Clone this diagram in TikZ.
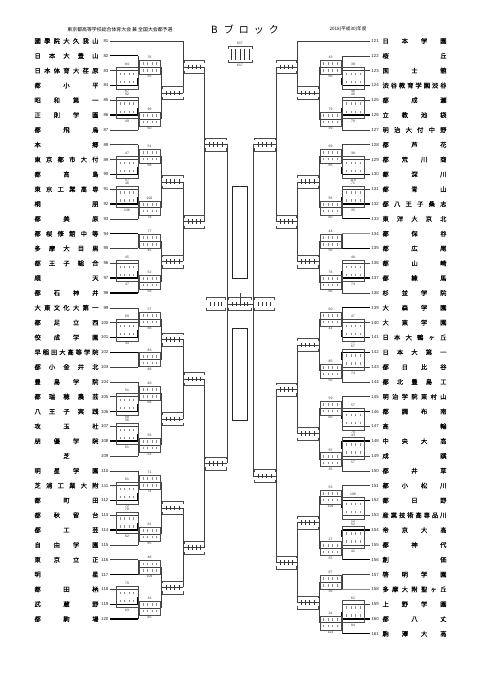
\documentclass[tikz,border=0pt]{standalone}
\usepackage{fontspec}
\newfontfamily\jp[FakeBold=0.3]{Noto Sans CJK JP}
\newfontfamily\jph{Noto Sans CJK JP}
\newfontfamily\lsans{Liberation Sans}
\usetikzlibrary{calc}
\ExplSyntaxOn
\NewDocumentCommand \jn { m }
 {
  \int_compare:nNnTF { \tl_count:n {#1} } = 1
   { \hfill #1 \hfill }
   {
    \bool_set_true:N \l_tmpa_bool
    \tl_map_inline:nn {#1}
     {
      \bool_if:NTF \l_tmpa_bool { \bool_set_false:N \l_tmpa_bool } { \hfill }
      ##1
     }
   }
 }
\ExplSyntaxOff
\tikzset{
  ln/.style={draw=black!75, line width=0.5pt},
  lng/.style={draw=black!45, line width=0.5pt},
  thk/.style={draw=black, line width=1.3pt},
  bx/.style={draw=black!70, line width=0.35pt},
  tk/.style={draw=black!45, line width=0.3pt},
  tkd/.style={draw=black!80, line width=0.35pt},
  lab/.style={font=\lsans\fontsize{3.4}{4}\selectfont, text=black!80, inner sep=0pt},
  num/.style={font=\lsans\fontsize{4.4}{5}\selectfont, text=black!85, inner sep=0pt},
  tname/.style={font=\jp\fontsize{6.3}{7}\selectfont, inner sep=0pt},
  rect/.style={draw=black!85, line width=0.75pt}
}
% team on the left: number, name, line style, end x
\newcommand\teamL[4]{%
  \pgfmathsetmacro\yy{41+(#1-81)*14.82}
  \coordinate (sL#1) at (110,\yy);
  \coordinate (L#1) at (#4,\yy);
  \node[num,anchor=east] (kL#1) at (108.6,\yy) {#1};
  \node[tname] (nL#1) at (66.5,\yy) {\makebox[64pt][s]{\jn{#2}}};
  \draw[#3] (sL#1) -- (L#1);
}
\newcommand\teamR[4]{%
  \pgfmathsetmacro\yy{41+(#1-121)*14.82}
  \coordinate (sR#1) at (370,\yy);
  \coordinate (R#1) at (#4,\yy);
  \node[num,anchor=west] (kR#1) at (371.2,\yy) {#1};
  \node[tname] (nR#1) at (414.5,\yy) {\makebox[64pt][s]{\jn{#2}}};
  \draw[#3] (sR#1) -- (R#1);
}
% match: name, entry a, entry b, shift to next vertical
\newcommand\mt[4]{%
  \coordinate (#1) at ($(#2)!.5!(#3)$);
  \coordinate (#1o) at ([xshift=#4]#1);
  \draw[ln] (#2) -- (#3);
  \draw[ln] (#1) -- (#1o);
}
% first-round box: a, b, side, label above, label below
\newcommand\bxone[5]{%
  \draw[bx] ([xshift={#3*22pt},yshift=3.5pt]#1) rectangle ([yshift=-3.5pt]#2);
  \foreach \ti in {4.5,9,13.5,18}{%
    \draw[tk] ([xshift={#3*\ti*1pt},yshift=-2.2pt]#1) -- ([xshift={#3*\ti*1pt},yshift=-4.6pt]#1);
    \draw[tk] ([xshift={#3*\ti*1pt},yshift=2.2pt]#2) -- ([xshift={#3*\ti*1pt},yshift=4.6pt]#2);
  }
  \node[lab] (#1a) at ([xshift={#3*11pt},yshift=6pt]#1) {#4};
  \node[lab] (#2b) at ([xshift={#3*11pt},yshift=-6pt]#2) {#5};
}
% second-round box: mid, side, label above, label below
\newcommand\bxtwo[4]{%
  \draw[bx] ([xshift={#2*1.2pt},yshift=7pt]#1) rectangle ([xshift={#2*21.8pt},yshift=-7pt]#1);
  \foreach \ti in {5,9.5,14,18.5}{%
    \draw[tk] ([xshift={#2*\ti*1pt},yshift=2pt]#1) -- ([xshift={#2*\ti*1pt},yshift=4.6pt]#1);
    \draw[tk] ([xshift={#2*\ti*1pt},yshift=-2pt]#1) -- ([xshift={#2*\ti*1pt},yshift=-4.6pt]#1);
  }
  \node[lab] (#1a) at ([xshift={#2*11.5pt},yshift=9.6pt]#1) {#3};
  \node[lab] (#1b) at ([xshift={#2*11.5pt},yshift=-9.6pt]#1) {#4};
}
% bracket box: mid, side, x0, x1, ticks
\newcommand\bxbr[5]{%
  \draw[bx] ([xshift={#2*#3*1pt},yshift=4pt]#1) -- ([xshift={#2*#3*1pt},yshift=6.5pt]#1) -- ([xshift={#2*#4*1pt},yshift=6.5pt]#1) -- ([xshift={#2*#4*1pt},yshift=4pt]#1);
  \draw[bx] ([xshift={#2*#3*1pt},yshift=-4pt]#1) -- ([xshift={#2*#3*1pt},yshift=-6.5pt]#1) -- ([xshift={#2*#4*1pt},yshift=-6.5pt]#1) -- ([xshift={#2*#4*1pt},yshift=-4pt]#1);
  \foreach \ii in {1,...,#5}{%
    \draw[tkd] ([xshift={#2*(#3+(#4-#3)*\ii/(#5+1))*1pt},yshift=2.3pt]#1) -- ([xshift={#2*(#3+(#4-#3)*\ii/(#5+1))*1pt},yshift=-2.3pt]#1);
  }
}
\begin{document}
\begin{tikzpicture}[x=1pt,y=-1pt]
\fill[white] (0,0) rectangle (481,680);
\useasboundingbox (0,0) rectangle (481,680);

% headers
\node[font=\jph\fontsize{4.9}{5}\selectfont, inner sep=0pt] (hdL) at (120,29.5) {東京都高等学校総合体育大会\ 兼\ 全国大会都予選};
\node[font=\jph\fontsize{10}{12}\selectfont, inner sep=0pt] (ttl) at (245,29.5) {B\hspace{6pt}ブ\hspace{5pt}ロ\hspace{5pt}ッ\hspace{5pt}ク};
\node[font=\jph\fontsize{4.6}{5}\selectfont, inner sep=0pt] (hdR) at (348,29.5) {2018(平成30)年度};

% legend box at top centre
\node[lab] (tbt) at (240,43.5) {617};
\node[lab] (tbb) at (240,65.5) {617};
\draw[bx] (228,49) -- (228,46.5) -- (252,46.5) -- (252,49);
\draw[bx] (228,59.5) -- (228,62) -- (252,62) -- (252,59.5);
\foreach \xx in {231,235.5,240,244.5,249}{\draw[tkd] (\xx,48.5) -- (\xx,60);}

% ---------------- left teams ----------------
\teamL{81}{國學院大久我山}{ln}{183}
\teamL{82}{日本大豊山}{thk}{138}
\teamL{83}{日本体育大荏原}{ln}{138}
\teamL{84}{都小平}{thk}{138}
\teamL{85}{昭和第一}{ln}{138}
\teamL{86}{正則学園}{thk}{138}
\teamL{87}{都飛鳥}{ln}{138}
\teamL{88}{本郷}{ln}{138}
\teamL{89}{東京都市大付}{ln}{138}
\teamL{90}{都高島}{thk}{138}
\teamL{91}{東京工業高専}{ln}{138}
\teamL{92}{桐朋}{thk}{138}
\teamL{93}{都美原}{ln}{138}
\teamL{94}{都桜修館中等}{thk}{138}
\teamL{95}{多摩大目黒}{ln}{138}
\teamL{96}{都王子総合}{ln}{138}
\teamL{97}{順天}{thk}{138}
\teamL{98}{都石神井}{thk}{138}
\teamL{99}{大東文化大第一}{ln}{138}
\teamL{100}{都足立西}{ln}{138}
\teamL{101}{佼成学園}{thk}{138}
\teamL{102}{早稲田大高等学院}{thk}{138}
\teamL{103}{都小金井北}{ln}{138}
\teamL{104}{豊島学院}{ln}{138}
\teamL{105}{都瑞穂農芸}{ln}{138}
\teamL{106}{八王子実践}{thk}{138}
\teamL{107}{攻玉社}{ln}{138}
\teamL{108}{朋優学院}{thk}{138}
\teamL{109}{芝}{ln}{138}
\teamL{110}{明星学園}{ln}{138}
\teamL{111}{芝浦工業大附}{ln}{138}
\teamL{112}{都町田}{thk}{138}
\teamL{113}{都秋留台}{ln}{138}
\teamL{114}{都工芸}{thk}{138}
\teamL{115}{自由学園}{ln}{138}
\teamL{116}{東京立正}{ln}{138}
\teamL{117}{明星}{thk}{138}
\teamL{118}{都田柄}{ln}{138}
\teamL{119}{武蔵野}{thk}{138}
\teamL{120}{都駒場}{thk}{138}

% ---------------- right teams ----------------
\teamR{121}{日本学園}{ln}{297}
\teamR{122}{桜丘}{ln}{342}
\teamR{123}{国士舘}{ln}{342}
\teamR{124}{渋谷教育学園渋谷}{thk}{342}
\teamR{125}{都成瀬}{ln}{342}
\teamR{126}{立教池袋}{thk}{342}
\teamR{127}{明治大付中野}{ln}{342}
\teamR{128}{都芦花}{ln}{342}
\teamR{129}{都荒川商}{ln}{342}
\teamR{130}{都深川}{thk}{342}
\teamR{131}{都青山}{ln}{342}
\teamR{132}{都八王子桑志}{thk}{342}
\teamR{133}{東洋大京北}{thk}{342}
\teamR{134}{都保谷}{lng}{342}
\teamR{135}{都広尾}{thk}{342}
\teamR{136}{都山崎}{ln}{342}
\teamR{137}{都練馬}{thk}{342}
\teamR{138}{杉並学院}{ln}{342}
\teamR{139}{大森学園}{thk}{342}
\teamR{140}{大東学園}{ln}{342}
\teamR{141}{日本大鶴ヶ丘}{thk}{342}
\teamR{142}{日本大第一}{thk}{342}
\teamR{143}{都日比谷}{ln}{342}
\teamR{144}{都北豊島工}{ln}{342}
\teamR{145}{明治学院東村山}{ln}{342}
\teamR{146}{都調布南}{thk}{342}
\teamR{147}{高輪}{ln}{342}
\teamR{148}{中央大高}{thk}{342}
\teamR{149}{成蹊}{ln}{342}
\teamR{150}{都井草}{ln}{342}
\teamR{151}{都小松川}{ln}{342}
\teamR{152}{都日野}{thk}{342}
\teamR{153}{産業技術高専品川}{ln}{342}
\teamR{154}{帝京大高}{thk}{342}
\teamR{155}{都神代}{ln}{342}
\teamR{156}{創価}{thk}{342}
\teamR{157}{啓明学園}{ln}{342}
\teamR{158}{多摩大附聖ヶ丘}{lng}{342}
\teamR{159}{上野学園}{ln}{342}
\teamR{160}{都八丈}{thk}{342}
\teamR{161}{駒澤大高}{thk}{342}

% ---------------- left bracket ----------------
\mt{M1}{L83}{L84}{0pt}   \mt{M2}{L85}{L86}{0pt}   \mt{M3}{L89}{L90}{0pt}
\mt{M4}{L91}{L92}{0pt}   \mt{M5}{L96}{L97}{0pt}   \mt{M6}{L100}{L101}{0pt}
\mt{M7}{L105}{L106}{0pt} \mt{M8}{L107}{L108}{0pt} \mt{M9}{L111}{L112}{0pt}
\mt{M10}{L113}{L114}{0pt} \mt{M11}{L118}{L119}{0pt}
\foreach \w/\m in {L84/M1,L86/M2,L90/M3,L92/M4,L97/M5,L101/M6,L106/M7,L108/M8,L112/M9,L114/M10,L119/M11}{\draw[thk] (\w) -- (\m);}

\mt{N1}{L82}{M1}{23pt}  \mt{N2}{M2}{L87}{23pt}   \mt{N3}{L88}{M3}{23pt}
\mt{N4}{M4}{L93}{23pt}  \mt{N5}{L94}{L95}{23pt}  \mt{N6}{M5}{L98}{23pt}
\mt{N7}{L99}{M6}{23pt}  \mt{N8}{L102}{L103}{23pt} \mt{N9}{L104}{M7}{23pt}
\mt{N10}{M8}{L109}{23pt} \mt{N11}{L110}{M9}{23pt} \mt{N12}{M10}{L115}{23pt}
\mt{N13}{L116}{L117}{23pt} \mt{N14}{M11}{L120}{23pt}

\mt{P1}{N1o}{N2o}{22pt} \mt{P2}{N3o}{N4o}{22pt} \mt{P3}{N5o}{N6o}{22pt}
\mt{P4}{N7o}{N8o}{22pt} \mt{P5}{N9o}{N10o}{22pt} \mt{P6}{N11o}{N12o}{22pt}
\mt{P7}{N13o}{N14o}{22pt}

\mt{Q1}{L81}{P1o}{21pt} \mt{Q2}{P2o}{P3o}{21pt} \mt{Q3}{P4o}{P5o}{21pt} \mt{Q4}{P6o}{P7o}{21pt}
\mt{S1}{Q1o}{Q2o}{23pt} \mt{S2}{Q3o}{Q4o}{23pt}
\mt{T}{S1o}{S2o}{0pt}

% ---------------- right bracket ----------------
\mt{RM1}{R123}{R124}{0pt}  \mt{RM2}{R125}{R126}{0pt}  \mt{RM3}{R129}{R130}{0pt}
\mt{RM4}{R131}{R132}{0pt}  \mt{RM5}{R136}{R137}{0pt}  \mt{RM6}{R140}{R141}{0pt}
\mt{RM7}{R142}{R143}{0pt}  \mt{RM8}{R146}{R147}{0pt}  \mt{RM9}{R148}{R149}{0pt}
\mt{RM10}{R152}{R153}{0pt} \mt{RM11}{R154}{R155}{0pt} \mt{RM12}{R159}{R160}{0pt}
\foreach \w/\m in {R124/RM1,R126/RM2,R130/RM3,R132/RM4,R137/RM5,R141/RM6,R142/RM7,R146/RM8,R148/RM9,R152/RM10,R154/RM11,R160/RM12}{\draw[thk] (\w) -- (\m);}

\mt{RN1}{R122}{RM1}{-23pt}  \mt{RN2}{RM2}{R127}{-23pt}  \mt{RN3}{R128}{RM3}{-23pt}
\mt{RN4}{RM4}{R133}{-23pt}  \mt{RN5}{R134}{R135}{-23pt} \mt{RN6}{RM5}{R138}{-23pt}
\mt{RN7}{R139}{RM6}{-23pt}  \mt{RN8}{RM7}{R144}{-23pt}  \mt{RN9}{R145}{RM8}{-23pt}
\mt{RN10}{RM9}{R150}{-23pt} \mt{RN11}{R151}{RM10}{-23pt} \mt{RN12}{RM11}{R156}{-23pt}
\mt{RN13}{R157}{R158}{-23pt} \mt{RN14}{RM12}{R161}{-23pt}

\mt{RP1}{RN1o}{RN2o}{-22pt} \mt{RP2}{RN3o}{RN4o}{-22pt} \mt{RP3}{RN5o}{RN6o}{-22pt}
\mt{RP4}{RN7o}{RN8o}{-22pt} \mt{RP5}{RN9o}{RN10o}{-22pt} \mt{RP6}{RN11o}{RN12o}{-22pt}
\mt{RP7}{RN13o}{RN14o}{-22pt}

\mt{RQ1}{R121}{RP1o}{-21pt} \mt{RQ2}{RP2o}{RP3o}{-21pt} \mt{RQ3}{RP4o}{RP5o}{-21pt} \mt{RQ4}{RP6o}{RP7o}{-21pt}
\mt{RS1}{RQ1o}{RQ2o}{-23pt} \mt{RS2}{RQ3o}{RQ4o}{-23pt}
\draw[ln] (RS1o) -- (RS2o);
\coordinate (RT) at (RS1o |- T);

% final
\draw[ln] (T) -- (RT);
\coordinate (FT) at ($(T)!.5!(RT)$);
\coordinate (FTu) at ([yshift=11pt]FT);
\draw[ln] (FT) -- (FTu);

% ---------------- boxes left ----------------
\bxone{L83}{L84}{-1}{84}{87}
\bxone{L85}{L86}{-1}{92}{49}
\bxone{L89}{L90}{-1}{47}{57}
\bxone{L91}{L92}{-1}{46}{138}
\bxone{L96}{L97}{-1}{45}{47}
\bxone{L100}{L101}{-1}{69}{34}
\bxone{L105}{L106}{-1}{51}{58}
\bxone{L107}{L108}{-1}{56}{61}
\bxone{L111}{L112}{-1}{61}{72}
\bxone{L113}{L114}{-1}{70}{62}
\bxone{L118}{L119}{-1}{70}{83}

\bxtwo{N1}{1}{76}{55}   \bxtwo{N2}{1}{99}{60}   \bxtwo{N3}{1}{51}{68}
\bxtwo{N4}{1}{100}{78}  \bxtwo{N5}{1}{77}{45}   \bxtwo{N6}{1}{52}{58}
\bxtwo{N7}{1}{57}{66}   \bxtwo{N8}{1}{83}{88}   \bxtwo{N9}{1}{40}{68}
\bxtwo{N10}{1}{56}{53}  \bxtwo{N11}{1}{71}{74}  \bxtwo{N12}{1}{81}{85}
\bxtwo{N13}{1}{48}{109} \bxtwo{N14}{1}{33}{85}

\foreach \m in {P1,P2,P3,P4,P5,P6,P7}{\bxbr{\m}{1}{1}{22}{4}}
\foreach \m in {Q1,Q2,Q3,Q4}{\bxbr{\m}{1}{1}{21}{4}}
\foreach \m in {S1,S2}{\bxbr{\m}{1}{1}{22}{4}}
\bxbr{T}{-1}{1.5}{21}{4}

% ---------------- boxes right ----------------
\bxone{R123}{R124}{1}{39}{46}
\bxone{R125}{R126}{1}{48}{79}
\bxone{R129}{R130}{1}{38}{119}
\bxone{R131}{R132}{1}{71}{35}
\bxone{R136}{R137}{1}{48}{73}
\bxone{R140}{R141}{1}{47}{77}
\bxone{R142}{R143}{1}{67}{74}
\bxone{R146}{R147}{1}{57}{70}
\bxone{R148}{R149}{1}{43}{57}
\bxone{R152}{R153}{1}{108}{12}
\bxone{R154}{R155}{1}{52}{42}
\bxone{R159}{R160}{1}{62}{84}

\bxtwo{RN1}{-1}{43}{60}   \bxtwo{RN2}{-1}{79}{39}   \bxtwo{RN3}{-1}{69}{85}
\bxtwo{RN4}{-1}{56}{80}   \bxtwo{RN5}{-1}{44}{56}   \bxtwo{RN6}{-1}{76}{66}
\bxtwo{RN7}{-1}{60}{44}   \bxtwo{RN8}{-1}{85}{50}   \bxtwo{RN9}{-1}{59}{60}
\bxtwo{RN10}{-1}{55}{35}  \bxtwo{RN11}{-1}{53}{109} \bxtwo{RN12}{-1}{27}{55}
\bxtwo{RN13}{-1}{67}{36}  \bxtwo{RN14}{-1}{24}{113}

\foreach \m in {RP1,RP2,RP3,RP4,RP5,RP6,RP7}{\bxbr{\m}{-1}{1}{22}{4}}
\foreach \m in {RQ1,RQ2,RQ3,RQ4}{\bxbr{\m}{-1}{1}{21}{4}}
\foreach \m in {RS1,RS2}{\bxbr{\m}{-1}{1}{22}{4}}
\bxbr{RT}{1}{1.5}{21}{4}

% final box
\bxbr{T}{1}{1.5}{24.5}{5}

% name rectangles
\node[rect, minimum width=15pt, minimum height=92pt, inner sep=0pt] (win1) at (239.5,232) {};
\node[rect, minimum width=15pt, minimum height=92pt, inner sep=0pt] (win2) at (239.5,374) {};
\end{tikzpicture}
\end{document}
